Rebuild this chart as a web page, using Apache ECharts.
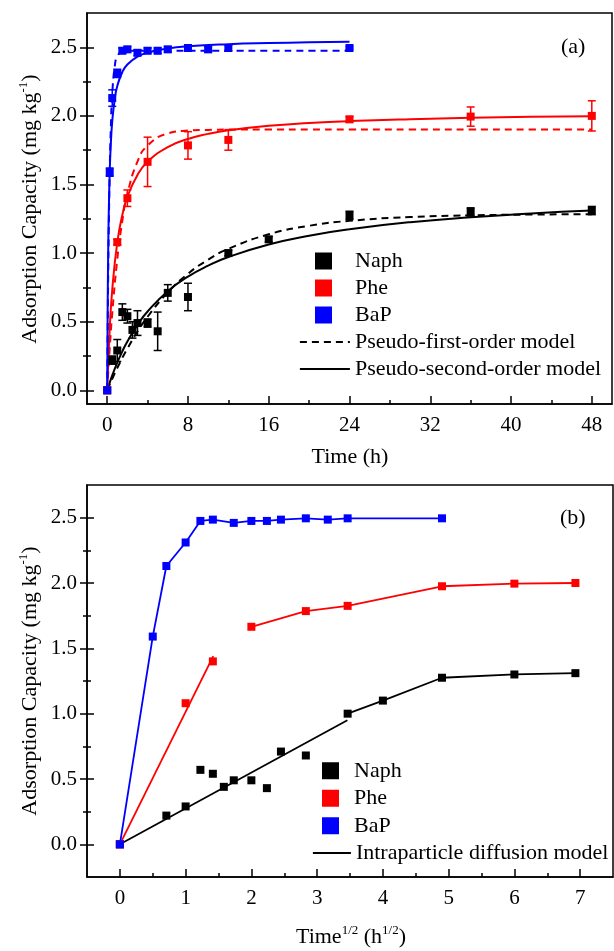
<!DOCTYPE html>
<html>
<head>
<meta charset="utf-8">
<script src="https://cdn.jsdelivr.net/npm/echarts@6/dist/echarts.min.js"></script>
<style>
html, body { margin: 0; padding: 0; background: #fff; }
#chart { width: 614px; height: 951px; }
</style>
</head>
<body>
<div id="chart"></div>
<script>
// measured points (time in h, capacity in mg/kg)
var naphTime = [0, 0.5, 1, 1.5, 2, 2.5, 3, 4, 5, 6, 8, 12, 16, 24, 36, 48]
var naphVal = [0, 0.22, 0.29, 0.57, 0.54, 0.44, 0.49, 0.49, 0.43, 0.71, 0.68, 1.0, 1.10, 1.275, 1.30, 1.31]
var naphErr = [0, 0.03, 0.08, 0.06, 0.05, 0.06, 0.09, 0.03, 0.14, 0.06, 0.10, 0.02, 0.02, 0.03, 0.03, 0.03]

var pheTime = [0, 1, 2, 4, 8, 12, 24, 36, 48]
var pheVal = [0, 1.08, 1.40, 1.665, 1.785, 1.825, 1.975, 1.995, 2.0]
var pheErr = [0, 0.02, 0.06, 0.18, 0.10, 0.075, 0.02, 0.07, 0.11]

var bapTime = [0, 0.25, 0.5, 1, 1.5, 2, 3, 4, 5, 6, 8, 10, 12, 24]
var bapVal = [0, 1.59, 2.13, 2.31, 2.475, 2.485, 2.46, 2.475, 2.475, 2.485, 2.495, 2.485, 2.495, 2.495]
var bapErr = [0, 0.03, 0.06, 0.03, 0.02, 0.02, 0.02, 0.02, 0.02, 0.02, 0.02, 0.02, 0.02, 0.01]

// model curves
var modelTime = [0, 0.25, 0.5, 1, 1.5, 2, 3, 4, 6, 8, 10, 12, 16, 20, 24, 30, 36, 42, 48]
var naphPFO = [0, 0.043, 0.084, 0.162, 0.236, 0.304, 0.428, 0.536, 0.713, 0.849, 0.952, 1.031, 1.137, 1.199, 1.235, 1.263, 1.275, 1.281, 1.283]
var naphPSO = [0, 0.056, 0.109, 0.202, 0.284, 0.356, 0.477, 0.574, 0.722, 0.828, 0.908, 0.971, 1.063, 1.127, 1.174, 1.225, 1.261, 1.289, 1.31]
var phePFO = [0, 0.305, 0.561, 0.956, 1.235, 1.431, 1.667, 1.784, 1.872, 1.893, 1.898, 1.9, 1.9, 1.9, 1.9, 1.9, 1.9, 1.9, 1.9]
var phePSO = [0, 0.447, 0.733, 1.078, 1.278, 1.409, 1.57, 1.666, 1.773, 1.832, 1.869, 1.895, 1.928, 1.948, 1.962, 1.976, 1.986, 1.993, 1.998]
var bapModelTime = [0, 0.05, 0.1, 0.15, 0.25, 0.35, 0.5, 0.75, 1, 1.5, 2, 3, 4, 6, 8, 12, 16, 20, 24]
var bapPFO = [0, 0.46, 0.834, 1.139, 1.59, 1.888, 2.159, 2.361, 2.434, 2.47, 2.474, 2.475, 2.475, 2.475, 2.475, 2.475, 2.475, 2.475, 2.475]
var bapPSO = [0, 0.633, 1.015, 1.27, 1.59, 1.782, 1.96, 2.125, 2.218, 2.32, 2.375, 2.432, 2.461, 2.492, 2.508, 2.523, 2.531, 2.536, 2.54]

// intraparticle diffusion fit segments in panel (b) (x = sqrt time)
var naphFitX = [0, 3.46]
var naphFitY = [0, 0.95]
var pheFitX = [0, 1.42]
var pheFitY = [0, 1.44]

// ticks
var timeTicks = [0, 8, 16, 24, 32, 40, 48]
var timeMinor = [4, 12, 20, 28, 36, 44]
var sqrtTicks = [0, 1, 2, 3, 4, 5, 6, 7]
var sqrtMinor = [0.5, 1.5, 2.5, 3.5, 4.5, 5.5, 6.5]
var capTicks = [0, 0.5, 1.0, 1.5, 2.0, 2.5]
var capMinor = [0.25, 0.75, 1.25, 1.75, 2.25]

var FONT = 'Liberation Serif'
var BLACK = '#000000', RED = '#ff0000', BLUE = '#0000ff'
var chart = echarts.init(document.getElementById('chart'))

function pairs(xs, ys) {
  return xs.map(function (x, i) { return [x, ys[i]] })
}
function sqrtPairs(xs, ys) {
  return xs.map(function (x, i) { return [Math.sqrt(x), ys[i]] })
}

function xAxes(grid, min, max, major, minor) {
  return [{
    type: 'value', gridIndex: grid, position: 'bottom', min: min, max: max,
    axisLine: { show: true, onZero: false, lineStyle: { color: BLACK, width: 1.5 } },
    axisTick: { show: true, inside: true, length: 8, customValues: major, lineStyle: { color: BLACK, width: 1.5 } },
    axisLabel: { customValues: major, margin: 11, color: BLACK, fontSize: 21, fontFamily: FONT },
    splitLine: { show: false }
  }, {
    type: 'value', gridIndex: grid, position: 'bottom', min: min, max: max,
    axisLine: { show: false, onZero: false },
    axisTick: { show: true, inside: true, length: 4, customValues: minor, lineStyle: { color: BLACK, width: 1.5 } },
    axisLabel: { show: false },
    splitLine: { show: false }
  }]
}

// y ticks cross the axis line: one axis for the outer half, one for the inner half
function yAxes(grid, min, max) {
  var list = []
  var defs = [
    { vals: capTicks, inside: false, len: 7, label: true, line: true },
    { vals: capTicks, inside: true, len: 7 },
    { vals: capMinor, inside: false, len: 4 },
    { vals: capMinor, inside: true, len: 4 }
  ]
  defs.forEach(function (d) {
    list.push({
      type: 'value', gridIndex: grid, position: 'left', min: min, max: max,
      axisLine: { show: !!d.line, onZero: false, lineStyle: { color: BLACK, width: 1.5 } },
      axisTick: { show: true, inside: d.inside, length: d.len, customValues: d.vals, lineStyle: { color: BLACK, width: 1.5 } },
      axisLabel: d.label ? {
        customValues: capTicks, margin: 10, color: BLACK, fontSize: 21, fontFamily: FONT,
        formatter: function (v) { return v.toFixed(1) }
      } : { show: false },
      splitLine: { show: false }
    })
  })
  return list
}

function errorBars(times, vals, errs, color) {
  var data = []
  times.forEach(function (t, i) {
    if (errs[i] > 0) data.push([t, vals[i] - errs[i], vals[i] + errs[i]])
  })
  return {
    type: 'custom', xAxisIndex: 0, yAxisIndex: 0, silent: true, z: 3,
    data: data,
    encode: { x: 0, y: [1, 2] },
    renderItem: function (params, api) {
      var lo = api.coord([api.value(0), api.value(1)])
      var hi = api.coord([api.value(0), api.value(2)])
      var w = 4
      var st = { stroke: color, lineWidth: 1.5, fill: null }
      return {
        type: 'group',
        children: [
          { type: 'line', shape: { x1: lo[0], y1: lo[1], x2: hi[0], y2: hi[1] }, style: st },
          { type: 'line', shape: { x1: lo[0] - w, y1: lo[1], x2: lo[0] + w, y2: lo[1] }, style: st },
          { type: 'line', shape: { x1: hi[0] - w, y1: hi[1], x2: hi[0] + w, y2: hi[1] }, style: st }
        ]
      }
    }
  }
}

function curve(name, data, color, dashed) {
  return {
    type: 'line', name: name, xAxisIndex: 0, yAxisIndex: 0, data: data,
    symbol: 'none', showSymbol: false, smooth: true, silent: true, z: 2,
    itemStyle: { color: color },
    lineStyle: { color: color, width: 2, type: dashed ? [7, 5] : 'solid' }
  }
}

function dots(name, data, color, xi, yi) {
  return {
    type: 'scatter', name: name, xAxisIndex: xi, yAxisIndex: yi, data: data,
    symbol: 'rect', symbolSize: 8, silent: true, z: 4,
    itemStyle: { color: color, opacity: 1 }
  }
}

function seg(data, color) {
  return {
    type: 'line', name: 'Intraparticle diffusion model', xAxisIndex: 2, yAxisIndex: 4, data: data,
    symbol: 'none', showSymbol: false, silent: true, z: 2,
    itemStyle: { color: color },
    lineStyle: { color: color, width: 1.8 }
  }
}

var naphIdx = naphTime.indexOf(12)
var pheIdx = pheTime.indexOf(4)

var legendText = { fontSize: 22, fontFamily: FONT, color: BLACK }
var noMarker = { color: 'rgba(0,0,0,0)', borderWidth: 0, opacity: 0 }
var supRich = { s: { font: '13px "Liberation Serif"', fill: BLACK, padding: [0, 0, 12, 0] } }

var option = {
  animation: false,
  backgroundColor: '#fff',
  grid: [
    { left: 87, top: 13, width: 525, height: 391, show: true, borderColor: BLACK, borderWidth: 1.5, backgroundColor: '#fff' },
    { left: 87, top: 485, width: 526, height: 392, show: true, borderColor: BLACK, borderWidth: 1.5, backgroundColor: '#fff' }
  ],
  xAxis: xAxes(0, -2, 50, timeTicks, timeMinor).concat(xAxes(1, -0.5, 7.5, sqrtTicks, sqrtMinor)),
  yAxis: yAxes(0, -0.1, 2.75).concat(yAxes(1, -0.25, 2.75)),
  legend: [{
    data: ['Naph', 'Phe', 'BaP'], orient: 'vertical', left: 315, top: 247.5,
    icon: 'rect', itemWidth: 17, itemHeight: 17, itemGap: 0, padding: 0, selectedMode: false,
    textStyle: Object.assign({ lineHeight: 27, padding: [0, 0, 0, 18] }, legendText)
  }, {
    data: ['Pseudo-first-order model', 'Pseudo-second-order model'], orient: 'vertical', left: 299, top: 328.5,
    itemWidth: 50, itemHeight: 17, itemGap: 0, padding: 0, selectedMode: false,
    itemStyle: noMarker, lineStyle: { width: 1.8 },
    textStyle: Object.assign({ lineHeight: 27 }, legendText)
  }, {
    data: ['Naph', 'Phe', 'BaP'], orient: 'vertical', left: 322, top: 757,
    icon: 'rect', itemWidth: 17, itemHeight: 17, itemGap: 0, padding: 0, selectedMode: false,
    textStyle: Object.assign({ lineHeight: 27.5, padding: [0, 0, 0, 10] }, legendText)
  }, {
    data: ['Intraparticle diffusion model'], orient: 'vertical', left: 312, top: 839.5,
    itemWidth: 38, itemHeight: 17, itemGap: 0, padding: 0, selectedMode: false,
    itemStyle: noMarker, lineStyle: { width: 1.8 },
    textStyle: Object.assign({ lineHeight: 27 }, legendText)
  }],
  graphic: [
    { type: 'text', left: 561, top: 36, style: { text: '(a)', font: '22px "Liberation Serif"', fill: BLACK } },
    { type: 'text', left: 560, top: 507, style: { text: '(b)', font: '22px "Liberation Serif"', fill: BLACK } },
    { type: 'text', x: 350, y: 457, style: { text: 'Time (h)', font: '22px "Liberation Serif"', fill: BLACK, align: 'center', verticalAlign: 'middle' } },
    {
      type: 'text', x: 351, y: 937,
      style: { text: 'Time{s|1/2} (h{s|1/2})', font: '22px "Liberation Serif"', fill: BLACK, align: 'center', verticalAlign: 'middle', rich: supRich }
    },
    {
      type: 'text', x: 30, y: 209, rotation: Math.PI / 2,
      style: { text: 'Adsorption Capacity (mg kg{s|-1})', font: '22px "Liberation Serif"', fill: BLACK, align: 'center', verticalAlign: 'middle', rich: supRich }
    },
    {
      type: 'text', x: 30, y: 681, rotation: Math.PI / 2,
      style: { text: 'Adsorption Capacity (mg kg{s|-1})', font: '22px "Liberation Serif"', fill: BLACK, align: 'center', verticalAlign: 'middle', rich: supRich }
    }
  ],
  series: [
    // panel (a)
    curve('Pseudo-first-order model', pairs(modelTime, naphPFO), BLACK, true),
    curve('Pseudo-second-order model', pairs(modelTime, naphPSO), BLACK, false),
    curve('Pseudo-first-order model', pairs(modelTime, phePFO), RED, true),
    curve('Pseudo-second-order model', pairs(modelTime, phePSO), RED, false),
    curve('Pseudo-first-order model', pairs(bapModelTime, bapPFO), BLUE, true),
    curve('Pseudo-second-order model', pairs(bapModelTime, bapPSO), BLUE, false),
    errorBars(naphTime, naphVal, naphErr, BLACK),
    errorBars(pheTime, pheVal, pheErr, RED),
    errorBars(bapTime, bapVal, bapErr, BLUE),
    dots('Naph', pairs(naphTime, naphVal), BLACK, 0, 0),
    dots('Phe', pairs(pheTime, pheVal), RED, 0, 0),
    dots('BaP', pairs(bapTime, bapVal), BLUE, 0, 0),
    // panel (b)
    seg(pairs(naphFitX, naphFitY), BLACK),
    seg(sqrtPairs(naphTime.slice(naphIdx), naphVal.slice(naphIdx)), BLACK),
    seg(pairs(pheFitX, pheFitY), RED),
    seg(sqrtPairs(pheTime.slice(pheIdx), pheVal.slice(pheIdx)), RED),
    seg(sqrtPairs(bapTime, bapVal), BLUE),
    dots('Naph', sqrtPairs(naphTime, naphVal), BLACK, 2, 4),
    dots('Phe', sqrtPairs(pheTime, pheVal), RED, 2, 4),
    dots('BaP', sqrtPairs(bapTime, bapVal), BLUE, 2, 4)
  ]
}
chart.setOption(option)
</script>
</body>
</html>
